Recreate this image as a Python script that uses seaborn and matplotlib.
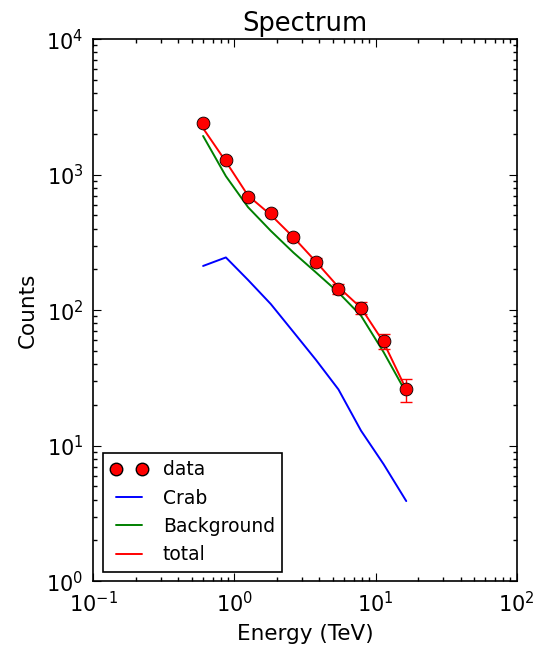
import matplotlib
matplotlib.use("Agg")
import matplotlib.pyplot as plt
import seaborn as sns
import pandas as pd
from matplotlib.lines import Line2D

# energy bin centres (TeV)
energy = [0.60, 0.87, 1.25, 1.81, 2.62, 3.78, 5.46, 7.89, 11.4, 16.5]
# observed counts and their errors
counts = [2400, 1280, 690, 525, 345, 226, 143, 104, 59, 26]
count_err = [49, 36, 26, 23, 18.6, 15, 12, 10.2, 7.7, 5.1]
# model components
crab = [212, 245, 167, 111, 69, 43, 26, 12.9, 7.3, 3.9]
background = [1930, 975, 575, 385, 266, 190, 135, 91, 49, 24.5]
total = [2200, 1250, 700, 505, 345, 228, 148, 104, 58, 26]

df = pd.DataFrame({
    "energy": energy * 3,
    "counts": crab + background + total,
    "model": ["Crab"] * 10 + ["Background"] * 10 + ["total"] * 10,
})

sns.set_theme(style="ticks")
plt.rcParams.update({
    "font.family": ["DejaVu Sans"],
    "text.color": "black",
    "axes.labelcolor": "black",
    "xtick.color": "black",
    "ytick.color": "black",
    "xtick.direction": "in",
    "ytick.direction": "in",
    "xtick.top": True,
    "ytick.right": True,
    "xtick.major.size": 6,
    "ytick.major.size": 6,
    "xtick.minor.size": 3,
    "ytick.minor.size": 3,
    "xtick.major.width": 0.8,
    "ytick.major.width": 0.8,
    "axes.edgecolor": "black",
    "axes.linewidth": 1.2,
})

fig = plt.figure(figsize=(5.36, 6.53), dpi=100)
ax = fig.add_axes([0.174, 0.110, 0.790, 0.830])

colors = {"Crab": "#0000ff", "Background": "#008000", "total": "#ff0000"}
sns.lineplot(data=df, x="energy", y="counts", hue="model", palette=colors,
             linewidth=1.4, ax=ax, legend=False, sort=False)

ax.errorbar(energy, counts, yerr=count_err, fmt="none", ecolor="red",
            elinewidth=1.0, capsize=4, zorder=4)
sns.scatterplot(x=energy, y=counts, color="red", edgecolor="black",
                linewidth=0.6, s=85, ax=ax, zorder=5)

ax.set_xscale("log")
ax.set_yscale("log")
ax.set_xlim(0.1, 100)
ax.set_ylim(1, 1e4)
ax.tick_params(axis="both", which="major", labelsize=15, pad=7)
ax.set_xlabel("Energy (TeV)", fontsize=15.5, labelpad=6)
ax.set_ylabel("Counts", fontsize=15.5, labelpad=6)
ax.set_title("Spectrum", fontsize=18.5, pad=6)

handles = [
    Line2D([0], [0], linestyle="none", marker="o", markerfacecolor="red",
           markeredgecolor="black", markersize=9),
    Line2D([0], [0], color=colors["Crab"], lw=1.4),
    Line2D([0], [0], color=colors["Background"], lw=1.4),
    Line2D([0], [0], color=colors["total"], lw=1.4),
]
leg = ax.legend(handles, ["data", "Crab", "Background", "total"],
                loc="lower left", numpoints=2, fontsize=13.5, fancybox=False,
                frameon=True, edgecolor="black", framealpha=1,
                borderaxespad=0.5, handlelength=2.0, labelspacing=0.5)
leg.get_frame().set_linewidth(1.2)

fig.savefig("out.png", dpi=100)
